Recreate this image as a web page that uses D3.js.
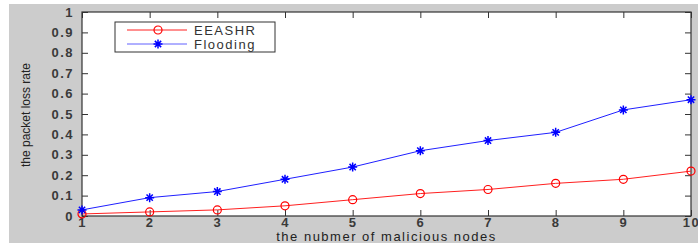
<!DOCTYPE html>
<html>
<head>
<meta charset="utf-8">
<script src="https://cdn.jsdelivr.net/npm/d3@7"></script>
<style>
  body { margin: 0; background: #fff; }
  text { font-family: Arial, "Liberation Sans", sans-serif; }
</style>
</head>
<body>
<div id="chart"></div>
<script>
const nodes = [1, 2, 3, 4, 5, 6, 7, 8, 9, 10];
const eeashr = [0.01, 0.02, 0.03, 0.05, 0.08, 0.11, 0.13, 0.16, 0.18, 0.22];
const flooding = [0.03, 0.09, 0.12, 0.18, 0.24, 0.32, 0.37, 0.41, 0.52, 0.57];
const yTicks = [0, 0.1, 0.2, 0.3, 0.4, 0.5, 0.6, 0.7, 0.8, 0.9, 1];
const seriesNames = ["EEASHR", "Flooding"];

const W = 698, H = 243;
const MARGIN = { TOP: 12, BOTTOM: 27, LEFT: 82, RIGHT: 7 };
const width = W - MARGIN.LEFT - MARGIN.RIGHT;
const height = H - MARGIN.TOP - MARGIN.BOTTOM;

const svg = d3.select("#chart").append("svg")
    .attr("width", W)
    .attr("height", H);

// grey figure background
svg.append("rect")
    .attr("x", 9).attr("y", 4)
    .attr("width", W - 9).attr("height", H - 4)
    .attr("fill", "#cccccc");

const g = svg.append("g")
    .attr("transform", `translate(${MARGIN.LEFT}, ${MARGIN.TOP})`);

g.append("rect")
    .attr("width", width).attr("height", height)
    .attr("fill", "#fff");

const x = d3.scaleLinear().domain([1, 10]).range([0, width]);
const y = d3.scaleLinear().domain([0, 1]).range([height, 0]);

const tickStyle = sel => {
    sel.select(".domain").remove();
    sel.selectAll("line").attr("stroke", "#333");
    sel.selectAll("text")
        .attr("fill", "#3a3a3a")
        .style("font-size", "13px")
        .style("font-weight", "bold")
        .style("letter-spacing", "1.5px");
};

g.append("g")
    .attr("transform", `translate(0, ${height})`)
    .call(d3.axisBottom(x).tickValues(nodes).tickSizeInner(-6).tickSizeOuter(0).tickPadding(2).tickFormat(d3.format("d")))
    .call(tickStyle);
g.append("g")
    .call(d3.axisTop(x).tickValues(nodes).tickSizeInner(-6).tickSizeOuter(0).tickFormat(""))
    .call(tickStyle);
g.append("g")
    .call(d3.axisLeft(y).tickValues(yTicks).tickSizeInner(-6).tickSizeOuter(0).tickPadding(8).tickFormat(d => d === 0 || d === 1 ? d : d3.format(".1f")(d)))
    .call(tickStyle);
g.append("g")
    .attr("transform", `translate(${width}, 0)`)
    .call(d3.axisRight(y).tickValues(yTicks).tickSizeInner(-6).tickSizeOuter(0).tickFormat(""))
    .call(tickStyle);

// frame
g.append("rect")
    .attr("width", width).attr("height", height)
    .attr("fill", "none").attr("stroke", "#333").attr("stroke-width", 1.2);

const line = d3.line().x((d, i) => x(nodes[i])).y(d => y(d));

g.append("path").datum(eeashr)
    .attr("d", line).attr("fill", "none").attr("stroke", "#ff2020").attr("stroke-width", 1);
g.append("path").datum(flooding)
    .attr("d", line).attr("fill", "none").attr("stroke", "#2020ff").attr("stroke-width", 1);

function circleMarker(sel, cx, cy) {
    sel.append("circle").attr("cx", cx).attr("cy", cy).attr("r", 4)
        .attr("fill", "none").attr("stroke", "#ff0000").attr("stroke-width", 1.2);
}
function starMarker(sel, cx, cy) {
    const r = 4.5;
    sel.append("path")
        .attr("d", `M${cx - r},${cy}H${cx + r}M${cx},${cy - r}V${cy + r}` +
            `M${cx - r * 0.7},${cy - r * 0.7}L${cx + r * 0.7},${cy + r * 0.7}` +
            `M${cx - r * 0.7},${cy + r * 0.7}L${cx + r * 0.7},${cy - r * 0.7}`)
        .attr("stroke", "#0000ff").attr("stroke-width", 1.5);
}

eeashr.forEach((v, i) => circleMarker(g, x(nodes[i]), y(v)));
flooding.forEach((v, i) => starMarker(g, x(nodes[i]), y(v)));

// legend
const lg = svg.append("g").attr("transform", "translate(115, 22)");
lg.append("rect").attr("width", 160).attr("height", 30)
    .attr("fill", "#fff").attr("stroke", "#333").attr("stroke-width", 1);
seriesNames.forEach((name, i) => {
    const ly = 8 + i * 14;
    lg.append("line").attr("x1", 12).attr("x2", 72).attr("y1", ly).attr("y2", ly)
        .attr("stroke", i === 0 ? "#ff2020" : "#6060ff").attr("stroke-width", 1);
    if (i === 0) circleMarker(lg, 43, ly); else starMarker(lg, 43, ly);
    lg.append("text").attr("x", 79).attr("y", ly + 4.5)
        .attr("fill", "#333")
        .style("font-size", "13px")
        .style("letter-spacing", "1.5px")
        .text(name);
});

// axis labels
svg.append("text")
    .attr("x", MARGIN.LEFT + width / 2).attr("y", 241)
    .attr("text-anchor", "middle")
    .attr("fill", "#222")
    .style("font-size", "13px")
    .style("letter-spacing", "1.5px")
    .text("the nubmer of malicious nodes");

svg.append("text")
    .attr("transform", "translate(30, 115) rotate(-90)")
    .attr("text-anchor", "middle")
    .attr("fill", "#222")
    .style("font-family", "'Liberation Sans Narrow', 'Arial Narrow', sans-serif")
    .style("font-stretch", "condensed")
    .style("font-size", "12px")
    .text("the packet loss rate");
</script>
</body>
</html>
